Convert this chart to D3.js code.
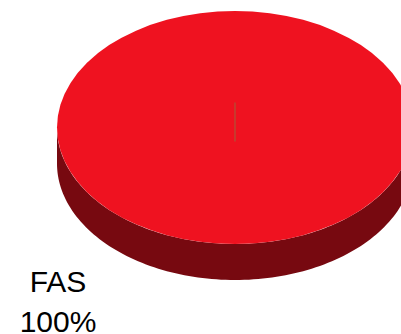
<!DOCTYPE html>
<html>
<head>
<meta charset="utf-8">
<script src="https://cdn.jsdelivr.net/npm/d3@7"></script>
<style>
  html, body { margin: 0; padding: 0; background: #fff; }
  svg { display: block; }
</style>
</head>
<body>
<div id="chart"></div>
<script>
const categories = ["FAS"];
const values = [100];
const topColors = ["#ef1220"];
const sideColors = ["#770910"];

const W = 401, H = 334;
const cx = 235, cy = 127.5, rx = 178, ry = 116.5, depth = 36;

const svg = d3.select("#chart").append("svg")
  .attr("width", W).attr("height", H);

const pie = d3.pie().sort(null).value(d => d);
const arcs = pie(values);
const total = d3.sum(values);

function pt(a, dy) {
  return [cx + rx * Math.sin(a), cy - ry * Math.cos(a) + dy];
}

// sides (front half only)
arcs.forEach((s, i) => {
  const a0 = Math.max(s.startAngle, Math.PI / 2);
  const a1 = Math.min(s.endAngle, 3 * Math.PI / 2);
  if (a1 <= a0) return;
  const n = 120;
  const angles = d3.range(n + 1).map(k => a0 + (a1 - a0) * k / n);
  const pts = angles.map(a => pt(a, 0)).concat(angles.slice().reverse().map(a => pt(a, depth)));
  svg.append("path")
    .attr("d", d3.line()(pts) + "Z")
    .attr("fill", sideColors[i]);
});

// top faces
const arcGen = d3.arc().innerRadius(0).outerRadius(rx);
const topG = svg.append("g")
  .attr("transform", `translate(${cx},${cy}) scale(1,${ry / rx})`);
topG.selectAll("path").data(arcs).join("path")
  .attr("d", arcGen)
  .attr("fill", (d, i) => topColors[i]);

// slice seam
svg.append("line")
  .attr("x1", cx).attr("x2", cx)
  .attr("y1", cy - 25).attr("y2", cy + 14)
  .attr("stroke", "#a0603a").attr("stroke-width", 1);

// label
const lbl = svg.append("text")
  .attr("font-family", "Liberation Sans, Arial, sans-serif")
  .attr("font-size", 30)
  .attr("fill", "#000")
  .attr("text-anchor", "middle");
lbl.append("tspan").attr("x", 58).attr("y", 292).text(categories[0]);
lbl.append("tspan").attr("x", 58).attr("y", 332)
  .text(Math.round(values[0] / total * 100) + "%");
</script>
</body>
</html>
